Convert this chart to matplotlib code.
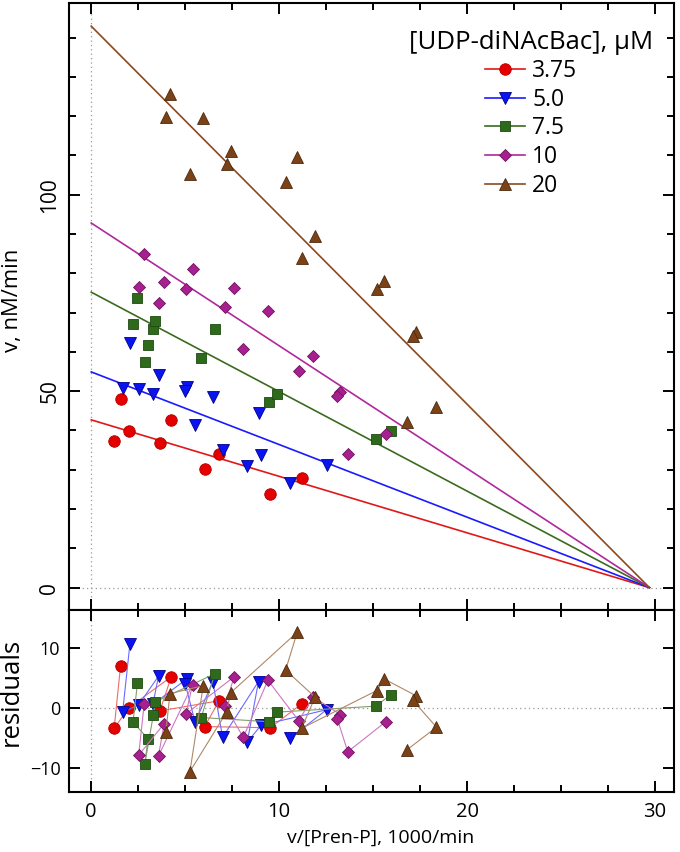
import matplotlib
matplotlib.use('Agg')
import matplotlib.pyplot as plt
from matplotlib.lines import Line2D
from matplotlib.ticker import MultipleLocator

plt.rcParams['font.family'] = ['Open Sans', 'DejaVu Sans']

# v/[Pren-P] (1000/min), v (nM/min) and residuals, ordered by [Pren-P]
x_375 = [1.56, 1.22, 1.99, 4.26, 3.65, 6.81, 6.03, 9.52, 11.21]
v_375 = [47.9, 37.3, 39.9, 42.6, 36.9, 34.0, 30.1, 23.8, 27.8]
r_375 = [7.0, -3.4, 0.0, 5.2, -0.5, 1.2, -3.1, -3.3, 0.7]

x_50 = [2.06, 1.67, 2.52, 3.58, 3.28, 5.07, 5.00, 5.53, 6.47, 6.99, 8.90, 8.30, 9.03, 12.52, 10.60]
v_50 = [62.3, 50.7, 50.5, 54.1, 49.4, 51.0, 50.1, 41.4, 48.4, 35.0, 44.4, 31.0, 33.8, 31.2, 26.6]
r_50 = [10.7, -0.7, 0.5, 5.3, 0.6, 4.8, 4.0, -2.4, 4.4, -4.9, 4.4, -5.7, -2.9, -0.3, -5.0]

x_75 = [2.46, 2.22, 3.02, 2.85, 3.30, 3.40, 6.58, 5.85, 9.47, 9.89, 15.14, 15.94]
v_75 = [73.8, 67.1, 61.8, 57.3, 65.7, 67.9, 65.8, 58.4, 47.3, 49.4, 37.8, 39.8]
r_75 = [4.1, -2.4, -5.1, -9.4, -1.2, 1.0, 5.7, -1.6, -2.3, -0.7, 0.3, 2.2]

x_10 = [2.82, 2.52, 3.88, 3.58, 5.39, 5.04, 7.61, 7.11, 8.09, 9.40, 11.03, 11.82, 13.26, 13.09, 13.65, 15.67]
v_10 = [84.9, 76.4, 77.9, 72.4, 81.0, 76.1, 76.3, 71.5, 60.7, 70.5, 55.2, 59.0, 49.7, 48.9, 34.0, 39.0]
r_10 = [0.7, -7.9, -2.6, -8.0, 3.9, -1.0, 5.2, 0.4, -4.9, 4.6, -2.1, 1.8, -1.1, -1.8, -7.3, -2.3]

x_20 = [3.97, 4.19, 5.96, 5.25, 7.20, 7.41, 10.96, 10.34, 11.91, 11.19, 15.20, 15.60, 17.30, 17.10, 18.37, 16.79]
v_20 = [119.7, 125.6, 119.4, 105.3, 107.8, 111.1, 109.5, 103.3, 89.5, 84.0, 76.0, 78.0, 65.1, 64.1, 46.0, 42.1]
r_20 = [-4.0, 2.4, 3.7, -10.6, -0.7, 2.5, 12.6, 6.3, 1.8, -3.4, 2.9, 4.8, 2.0, 1.3, -3.2, -7.0]

# fitted lines: intercept at x=0 and common x-intercept
intercepts = [42.7, 54.9, 75.2, 92.8, 142.9]
x_cross = 29.7

labels = ['3.75', '5.0', '7.5', '10', '20']
series = [(x_375, v_375, r_375), (x_50, v_50, r_50), (x_75, v_75, r_75),
          (x_10, v_10, r_10), (x_20, v_20, r_20)]
markers = ['o', 'v', 's', 'D', '^']
msizes = [8.3, 8.8, 6.8, 6.3, 8.8]
face = ['#e50000', '#0a14f0', '#2f6a1c', '#a8208f', '#7a4216']
edge = ['#b00000', '#00008c', '#1e4a10', '#6e145e', '#4e2a0e']
line_c = ['#e01818', '#1a1aff', '#3a6b1f', '#b0289c', '#8b4a1e']
resid_c = ['#ef6a6a', '#6a6aff', '#7fa06a', '#cc77bf', '#b08866']

fig = plt.figure(figsize=(6.8, 8.52), dpi=100)
ax = fig.add_axes([0.101, 0.284, 0.89, 0.7125])
axr = fig.add_axes([0.101, 0.0704, 0.89, 0.2136], sharex=ax)

for a in (ax, axr):
    a.axvline(0, color='#999999', lw=0.9, ls=(0, (1, 2.5)), zorder=0)
    a.axhline(0, color='#999999', lw=0.9, ls=(0, (1, 2.5)), zorder=0)

handles = []
for i, (xs, vs, rs) in enumerate(series):
    ax.plot([0, x_cross], [intercepts[i], 0], color=line_c[i], lw=1.2, zorder=2)
    ax.plot(xs, vs, ls='none', marker=markers[i], ms=msizes[i],
            mfc=face[i], mec=edge[i], mew=0.6, zorder=3)
    axr.plot(xs, rs, color=resid_c[i], lw=0.8, marker=markers[i], ms=msizes[i],
             mfc=face[i], mec=edge[i], mew=0.6, zorder=3)
    handles.append(Line2D([], [], color=line_c[i], lw=1.2, marker=markers[i],
                          ms=msizes[i], mfc=face[i], mec=edge[i], mew=0.6))

ax.set_xlim(-1.2, 31.0)
ax.set_ylim(-5.7, 148.8)
axr.set_ylim(-14.0, 16.3)

ax.xaxis.set_major_locator(MultipleLocator(10))
ax.xaxis.set_minor_locator(MultipleLocator(2.5))
ax.yaxis.set_major_locator(MultipleLocator(50))
ax.yaxis.set_minor_locator(MultipleLocator(10))
axr.yaxis.set_major_locator(MultipleLocator(10))

for a in (ax, axr):
    a.tick_params(which='both', direction='in', top=True, right=True, width=1.4)
    a.tick_params(which='major', length=8)
    a.tick_params(which='minor', length=5)
    for s in a.spines.values():
        s.set_linewidth(1.5)

ax.tick_params(axis='x', labelbottom=False)
ax.tick_params(axis='y', labelsize=15, labelrotation=90, pad=6)
for t in ax.get_yticklabels():
    t.set_va('center')
axr.tick_params(axis='y', labelsize=13, pad=6)
axr.tick_params(axis='x', labelsize=14.5, pad=7)

ax.set_ylabel('v, nM/min', fontsize=15.8)
ax.yaxis.set_label_coords(-0.076, 0.51)
axr.set_ylabel('residuals', fontsize=18.5)
axr.yaxis.set_label_coords(-0.074, 0.55)
axr.set_xlabel('v/[Pren-P], 1000/min', fontsize=14, labelpad=2)
axr.xaxis.set_label_coords(0.515, -0.2)
axr.xaxis.label.set_va('top')

leg = ax.legend(handles=handles, labels=labels, title='[UDP-diNAcBac], μM',
                loc='upper right', bbox_to_anchor=(1.0, 0.99), frameon=False,
                fontsize=16.5, title_fontsize=18.5, handlelength=1.75,
                labelspacing=0.2, handletextpad=0.3)

fig.savefig('out.png', dpi=100)
